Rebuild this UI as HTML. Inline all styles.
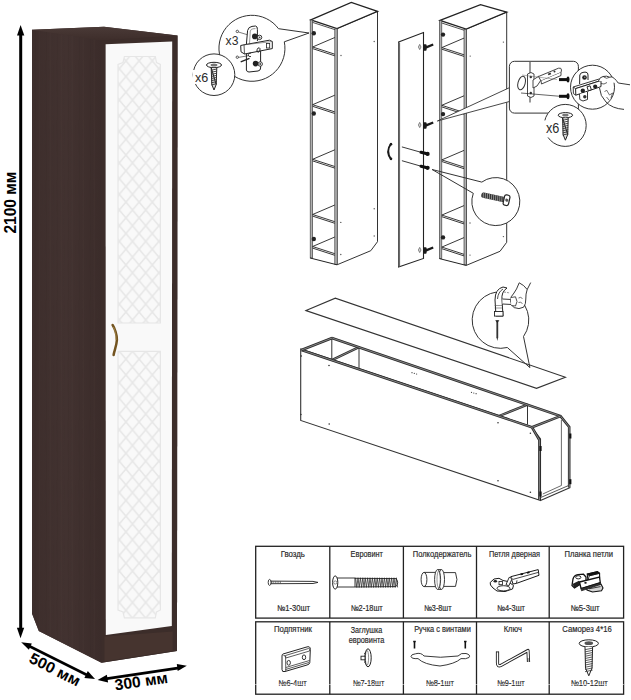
<!DOCTYPE html>
<html><head><meta charset="utf-8">
<style>
html,body{margin:0;padding:0;background:#fff;width:631px;height:700px;overflow:hidden;}
svg{display:block;position:absolute;left:0;top:0;}
text{font-family:"Liberation Sans",sans-serif;}
</style></head>
<body>
<svg width="631" height="700" viewBox="0 0 631 700">
<defs>
  <linearGradient id="sideG" x1="0" y1="0" x2="1" y2="0">
    <stop offset="0" stop-color="#3d2e2c"/>
    <stop offset="0.5" stop-color="#423230"/>
    <stop offset="1" stop-color="#3b2c2a"/>
  </linearGradient>
  <linearGradient id="topG" x1="0" y1="0" x2="0" y2="1">
    <stop offset="0" stop-color="#4a3a37"/>
    <stop offset="1" stop-color="#3d2d2a"/>
  </linearGradient>
  <pattern id="grain" x="0" y="0" width="11" height="60" patternUnits="userSpaceOnUse">
    <path d="M2 0 L2.4 60" stroke="#2f2220" stroke-width="0.7" opacity="0.25"/>
    <path d="M6.5 0 L6.2 60" stroke="#4d3d3a" stroke-width="0.7" opacity="0.25"/>
    <path d="M9 0 L9.2 60" stroke="#342624" stroke-width="0.5" opacity="0.2"/>
  </pattern>
  <pattern id="diam" x="119.3" y="53" width="13.2" height="15.7" patternUnits="userSpaceOnUse">
    <path d="M0 0 L13.2 15.7 M13.2 0 L0 15.7" stroke="#e7e7e7" stroke-width="1.6" fill="none"/>
  </pattern>
</defs>

<polygon points="32,29.7 104,26.8 177.5,35.5 177,651 101.5,662.7 38.8,631 32,613.5" fill="#3e2f2d" stroke="none" stroke-width="0"/>
<polygon points="32,29.7 101.5,40.5 101.5,662.7 38.8,631 32,613.5" fill="url(#sideG)" stroke="none" stroke-width="0"/>
<polygon points="32,29.7 101.5,40.5 101.5,662.7 38.8,631 32,613.5" fill="url(#grain)" stroke="none" stroke-width="0"/>
<polygon points="32,29.7 104,26.8 177.5,35.5 101.5,40.5" fill="url(#topG)" stroke="none" stroke-width="0"/>
<polygon points="101.5,40.5 177.5,35.5 177,651 101.5,662.7" fill="#3c2d2a" stroke="none" stroke-width="0"/>
<polygon points="104.5,636.4 172.7,631.4 172.7,650.8 104.5,661.3" fill="#46342f" stroke="none" stroke-width="0"/>
<polygon points="105.6,44.3 172.2,41.6 171.8,626 105.8,635" fill="#f9f9f9" stroke="none" stroke-width="0"/>
<path d="M124.4,56.5 L155.3,56.5 L156.5,62.5 L160.4,64.4 L160.4,323 L118,323 L118,64.4 L123,62.5 Z" fill="url(#diam)" stroke="#e6e6e6" stroke-width="1.2"/>
<path d="M118,351.4 L160.4,351.4 L160.4,610 L156.5,612 L155.3,617.8 L124.4,617.8 L123,612 L118,610 Z" fill="url(#diam)" stroke="#e6e6e6" stroke-width="1.2"/>
<path d="M112.6,325 C114.6,328 117.2,335 116.9,340 C116.6,346 114.2,351 113.6,355" fill="none" stroke="#735420" stroke-width="2.5" stroke-linecap="round"/>
<path d="M113.4,327 C115,330 116.3,335 116.1,340" fill="none" stroke="#a88a4a" stroke-width="0.8"/>
<line x1="20.7" y1="33" x2="20.7" y2="631" stroke="#000" stroke-width="3"/>
<polygon points="20.6,25 17,35.6 24.3,35.6" fill="#000" stroke="none" stroke-width="0"/>
<polygon points="20.5,638.2 16.9,627.8 24.2,627.8" fill="#000" stroke="none" stroke-width="0"/>
<text transform="translate(15.6,233.6) rotate(-90)" font-size="16.3" font-weight="bold" fill="#000" textLength="62" lengthAdjust="spacingAndGlyphs">2100 мм</text>
<line x1="26" y1="644.5" x2="90" y2="676.5" stroke="#000" stroke-width="2.6"/>
<polygon points="21.2,642.2 31.8,643.6 28.9,649.8" fill="#000" stroke="none" stroke-width="0"/>
<polygon points="95,679 84.4,677.9 87.8,671.1" fill="#000" stroke="none" stroke-width="0"/>
<text transform="translate(28,661.8) rotate(27)" font-size="15.4" font-weight="bold" fill="#000" textLength="55" lengthAdjust="spacingAndGlyphs">500 мм</text>
<line x1="102" y1="679.3" x2="181" y2="667.6" stroke="#000" stroke-width="2.7"/>
<polygon points="97.6,680 106.9,674.7 108.1,682.4" fill="#000" stroke="none" stroke-width="0"/>
<polygon points="186.8,665.8 176.8,664 177.7,671" fill="#000" stroke="none" stroke-width="0"/>
<text transform="translate(115.6,690.6) rotate(-8.5)" font-size="15.6" font-weight="bold" fill="#000" textLength="53.5" lengthAdjust="spacingAndGlyphs">300 мм</text>
<polygon points="337,28.5 377.5,11.4 377.5,241.7 370.8,250.7 337,264.8" fill="#fff" stroke="#333" stroke-width="1"/>
<polygon points="310.8,19.8 351.3,2.4 377.5,11.4 337,28.5" fill="#fff" stroke="#222" stroke-width="1.3"/>
<rect x="310.2" y="20" width="2.4" height="238" fill="#b0b0b0" stroke="#3a3a3a" stroke-width="0.65"/>
<rect x="334.8" y="28.8" width="2.4" height="235.5" fill="#b0b0b0" stroke="#3a3a3a" stroke-width="0.65"/>
<line x1="312.6" y1="22.4" x2="334.8" y2="29.6" stroke="#222" stroke-width="0.8"/>
<line x1="312.6" y1="47" x2="334.8" y2="37.5" stroke="#222" stroke-width="0.9"/>
<line x1="312.6" y1="47" x2="334.8" y2="54.2" stroke="#222" stroke-width="0.9"/>
<line x1="312.6" y1="48.6" x2="334.8" y2="55.8" stroke="#222" stroke-width="0.9"/>
<line x1="312.6" y1="104.7" x2="334.8" y2="95.2" stroke="#222" stroke-width="0.9"/>
<line x1="312.6" y1="104.7" x2="334.8" y2="111.9" stroke="#222" stroke-width="0.9"/>
<line x1="312.6" y1="106.3" x2="334.8" y2="113.5" stroke="#222" stroke-width="0.9"/>
<line x1="312.6" y1="159.3" x2="334.8" y2="149.8" stroke="#222" stroke-width="0.9"/>
<line x1="312.6" y1="159.3" x2="334.8" y2="166.5" stroke="#222" stroke-width="0.9"/>
<line x1="312.6" y1="160.9" x2="334.8" y2="168.1" stroke="#222" stroke-width="0.9"/>
<line x1="312.6" y1="214.5" x2="334.8" y2="205" stroke="#222" stroke-width="0.9"/>
<line x1="312.6" y1="214.5" x2="334.8" y2="221.7" stroke="#222" stroke-width="0.9"/>
<line x1="312.6" y1="216.1" x2="334.8" y2="223.3" stroke="#222" stroke-width="0.9"/>
<line x1="312.6" y1="246.5" x2="334.8" y2="237" stroke="#222" stroke-width="0.9"/>
<line x1="312.6" y1="246.5" x2="334.8" y2="253.7" stroke="#222" stroke-width="0.9"/>
<line x1="312.6" y1="248.1" x2="334.8" y2="255.3" stroke="#222" stroke-width="0.9"/>
<line x1="310.2" y1="258" x2="337" y2="264.8" stroke="#222" stroke-width="1"/>
<circle cx="313.8" cy="33.3" r="2.2" fill="#222"/>
<circle cx="313.8" cy="113.5" r="2.2" fill="#222"/>
<circle cx="313.8" cy="239" r="2.2" fill="#222"/>
<circle cx="374.2" cy="41.5" r="0.7" fill="#555"/>
<circle cx="341" cy="55.5" r="0.7" fill="#555"/>
<circle cx="340.8" cy="222.4" r="0.7" fill="#555"/>
<circle cx="374.2" cy="208.8" r="0.7" fill="#555"/>
<circle cx="340.8" cy="254.5" r="0.7" fill="#555"/>
<circle cx="374.2" cy="236" r="0.7" fill="#555"/>
<polygon points="466.2,29.1 506.7,12 506.7,242.3 500,251.3 466.2,265.4" fill="#fff" stroke="#333" stroke-width="1"/>
<polygon points="440,20.4 480.5,4.6 506.7,12 466.2,29.1" fill="#fff" stroke="#222" stroke-width="1.3"/>
<rect x="439.4" y="20.6" width="2.4" height="238" fill="#b0b0b0" stroke="#3a3a3a" stroke-width="0.65"/>
<rect x="464" y="29.4" width="2.4" height="235.5" fill="#b0b0b0" stroke="#3a3a3a" stroke-width="0.65"/>
<line x1="441.8" y1="23" x2="464" y2="30.2" stroke="#222" stroke-width="0.8"/>
<line x1="441.8" y1="47.6" x2="464" y2="38.1" stroke="#222" stroke-width="0.9"/>
<line x1="441.8" y1="47.6" x2="464" y2="54.8" stroke="#222" stroke-width="0.9"/>
<line x1="441.8" y1="49.2" x2="464" y2="56.4" stroke="#222" stroke-width="0.9"/>
<line x1="441.8" y1="105.3" x2="464" y2="95.8" stroke="#222" stroke-width="0.9"/>
<line x1="441.8" y1="105.3" x2="464" y2="112.5" stroke="#222" stroke-width="0.9"/>
<line x1="441.8" y1="106.9" x2="464" y2="114.1" stroke="#222" stroke-width="0.9"/>
<line x1="441.8" y1="159.9" x2="464" y2="150.4" stroke="#222" stroke-width="0.9"/>
<line x1="441.8" y1="159.9" x2="464" y2="167.1" stroke="#222" stroke-width="0.9"/>
<line x1="441.8" y1="161.5" x2="464" y2="168.7" stroke="#222" stroke-width="0.9"/>
<line x1="441.8" y1="215.1" x2="464" y2="205.6" stroke="#222" stroke-width="0.9"/>
<line x1="441.8" y1="215.1" x2="464" y2="222.3" stroke="#222" stroke-width="0.9"/>
<line x1="441.8" y1="216.7" x2="464" y2="223.9" stroke="#222" stroke-width="0.9"/>
<line x1="441.8" y1="247.1" x2="464" y2="237.6" stroke="#222" stroke-width="0.9"/>
<line x1="441.8" y1="247.1" x2="464" y2="254.3" stroke="#222" stroke-width="0.9"/>
<line x1="441.8" y1="248.7" x2="464" y2="255.9" stroke="#222" stroke-width="0.9"/>
<line x1="439.4" y1="258.6" x2="466.2" y2="265.4" stroke="#222" stroke-width="1"/>
<circle cx="443" cy="34.6" r="2.2" fill="#222"/>
<circle cx="443" cy="114.1" r="2.2" fill="#222"/>
<circle cx="443" cy="237.4" r="2.2" fill="#222"/>
<circle cx="503.4" cy="42.1" r="0.7" fill="#555"/>
<circle cx="470.2" cy="56.1" r="0.7" fill="#555"/>
<circle cx="470" cy="223" r="0.7" fill="#555"/>
<circle cx="503.4" cy="209.4" r="0.7" fill="#555"/>
<circle cx="470" cy="255.1" r="0.7" fill="#555"/>
<circle cx="503.4" cy="236.6" r="0.7" fill="#555"/>
<polygon points="398.6,42 423.5,32.6 423.5,258.4 398.6,267" fill="#fff" stroke="#222" stroke-width="1.1"/>
<line x1="399.2" y1="42.5" x2="399.2" y2="266.5" stroke="#6a6a6a" stroke-width="1.8"/>
<path d="M419.7,44.4 l1.3,2.6 l-1.3,2.6 l-1.3,-2.6 Z" fill="#ddd" stroke="#555" stroke-width="0.7"/>
<path d="M425,47.8 L433.2,44.5" fill="none" stroke="#1a1a1a" stroke-width="2.4"/>
<rect x="423.2" y="44.2" width="3.4" height="6.6" rx="1" fill="#1a1a1a"/>
<path d="M419.7,122.4 l1.3,2.6 l-1.3,2.6 l-1.3,-2.6 Z" fill="#ddd" stroke="#555" stroke-width="0.7"/>
<path d="M425,125.8 L433.2,122.5" fill="none" stroke="#1a1a1a" stroke-width="2.4"/>
<rect x="423.2" y="122.2" width="3.4" height="6.6" rx="1" fill="#1a1a1a"/>
<path d="M419.7,247.4 l1.3,2.6 l-1.3,2.6 l-1.3,-2.6 Z" fill="#ddd" stroke="#555" stroke-width="0.7"/>
<path d="M425,250.8 L433.2,247.5" fill="none" stroke="#1a1a1a" stroke-width="2.4"/>
<rect x="423.2" y="247.2" width="3.4" height="6.6" rx="1" fill="#1a1a1a"/>
<line x1="401.9" y1="146.9" x2="421" y2="152.3" stroke="#222" stroke-width="0.9"/>
<path d="M421,152.3 L427,153.8" fill="none" stroke="#111" stroke-width="3" stroke-linecap="round"/>
<circle cx="427.6" cy="153.9" r="2.1" fill="#111"/>
<line x1="401.9" y1="160.7" x2="421" y2="166.2" stroke="#222" stroke-width="0.9"/>
<path d="M421,166.2 L427,167.7" fill="none" stroke="#111" stroke-width="3" stroke-linecap="round"/>
<circle cx="427.6" cy="167.8" r="2.1" fill="#111"/>
<path d="M391,143.8 Q385.3,151.5 391,159.2" fill="none" stroke="#1a1a1a" stroke-width="1.9" stroke-linecap="round"/>
<circle cx="391" cy="144.2" r="1.3" fill="#1a1a1a"/><circle cx="391" cy="158.8" r="1.3" fill="#1a1a1a"/>
<circle cx="252" cy="48.4" r="33" fill="#fff"/>
<path d="M284.3,41.8 A33,33 0 1,1 278.5,28.7 L309,33 Z" fill="none" stroke="#333" stroke-width="1"/>
<path d="M246.4,44 L247.6,30.5 Q248.5,26.8 252,26.4 L255.5,26 Q257.6,26.3 257.4,29.5 L257.4,41" fill="#fff" stroke="#222" stroke-width="1"/>
<path d="M249.5,43.5 L250.3,31 Q251,29 253,28.8 L255.5,28.6" fill="none" stroke="#555" stroke-width="0.6"/>
<path d="M246.4,53.5 L246.4,70 Q246.8,72 249,72 L258,71 Q260.6,70.6 260.6,68 L260.6,50" fill="#fff" stroke="#222" stroke-width="1"/>
<path d="M240.7,45.5 L244,44.8 L269.5,40.2 L272.3,41.5 L272.3,48.6 L244.5,54 L241,51.8 Z" fill="#fff" stroke="#222" stroke-width="1"/>
<line x1="244" y1="44.8" x2="244.5" y2="54" stroke="#333" stroke-width="0.8"/>
<line x1="244" y1="44.8" x2="272.3" y2="41.5" stroke="#555" stroke-width="0.6"/>
<circle cx="254.8" cy="36.4" r="2.8" fill="#222"/><circle cx="259.6" cy="37.4" r="2.2" fill="#fff" stroke="#222" stroke-width="0.9"/><circle cx="259.6" cy="37.4" r="0.9" fill="#444"/>
<circle cx="255.6" cy="63.6" r="2.8" fill="#222"/><circle cx="260.2" cy="64" r="2.2" fill="#fff" stroke="#222" stroke-width="0.9"/><circle cx="260.2" cy="64" r="0.9" fill="#444"/>
<ellipse cx="258.5" cy="50" rx="1.4" ry="2.3" fill="none" stroke="#222" stroke-width="0.9" transform="rotate(20 258.5 50)"/>
<rect x="266.5" y="43.5" width="3.2" height="4.5" fill="none" stroke="#222" stroke-width="0.8"/>
<path d="M251,53 Q248,53 248,55 Q248.5,57 251,56.6" fill="none" stroke="#222" stroke-width="0.9"/>
<circle cx="237.3" cy="31.4" r="1.2" fill="none" stroke="#333" stroke-width="0.8"/>
<line x1="238.4" y1="32" x2="247" y2="34.6" stroke="#222" stroke-width="0.6"/>
<circle cx="237.3" cy="57.2" r="1.2" fill="none" stroke="#333" stroke-width="0.8"/>
<line x1="238.5" y1="57.4" x2="249" y2="55.6" stroke="#222" stroke-width="0.6"/>
<line x1="240.7" y1="61.8" x2="249.5" y2="58.3" stroke="#222" stroke-width="1.3"/>
<text x="232" y="45.2" font-size="13" fill="#2b2b2b" text-anchor="middle" font-weight="normal" textLength="12.8" lengthAdjust="spacingAndGlyphs">x3</text>
<circle cx="214" cy="74.7" r="20.8" fill="#fff" stroke="#333" stroke-width="1"/>
<rect x="193" y="70" width="9" height="14" fill="#fff"/>
<ellipse cx="214" cy="65" rx="7.5" ry="2.7" fill="#fff" stroke="#222" stroke-width="1"/>
<ellipse cx="214" cy="65" rx="3.4" ry="1.5" fill="#777" stroke="none"/>
<path d="M211.2,67.7 L211.8,84.5 L214,90 L216.2,84.5 Z M216.2,84.5 L216.8,67.7" fill="#ddd" stroke="#222" stroke-width="1"/>
<line x1="211.2" y1="70.2" x2="216.8" y2="69" stroke="#333" stroke-width="0.9"/>
<line x1="211.2" y1="72.3" x2="216.8" y2="71.1" stroke="#333" stroke-width="0.9"/>
<line x1="211.2" y1="74.4" x2="216.8" y2="73.2" stroke="#333" stroke-width="0.9"/>
<line x1="211.2" y1="76.5" x2="216.8" y2="75.3" stroke="#333" stroke-width="0.9"/>
<line x1="211.2" y1="78.6" x2="216.8" y2="77.4" stroke="#333" stroke-width="0.9"/>
<line x1="211.2" y1="80.7" x2="216.8" y2="79.5" stroke="#333" stroke-width="0.9"/>
<line x1="211.2" y1="82.8" x2="216.8" y2="81.6" stroke="#333" stroke-width="0.9"/>
<line x1="211.2" y1="84.9" x2="216.8" y2="83.7" stroke="#333" stroke-width="0.9"/>
<text x="201.6" y="82" font-size="13" fill="#2b2b2b" text-anchor="middle" font-weight="normal" textLength="13.3" lengthAdjust="spacingAndGlyphs">x6</text>
<polygon points="437.4,121 509.4,87.7 509.4,101.5" fill="#fff" stroke="none" stroke-width="0"/>
<line x1="437.4" y1="121" x2="509.4" y2="87.7" stroke="#333" stroke-width="0.9"/>
<line x1="437.4" y1="121" x2="509.4" y2="101.5" stroke="#333" stroke-width="0.9"/>
<rect x="509.4" y="61.3" width="69" height="51.8" rx="5" fill="#fff" stroke="#333" stroke-width="1"/>
<line x1="530" y1="62" x2="530" y2="102.4" stroke="#555" stroke-width="1.2"/>
<ellipse cx="521.6" cy="83" rx="3.6" ry="7" transform="rotate(15 521.6 83)" fill="none" stroke="#333" stroke-width="1"/>
<path d="M527.5,74 L531,72.5 L534,74 L534,96 L531,97.5 L527.5,96 Z" fill="#fff" stroke="#333" stroke-width="0.9"/>
<circle cx="530.8" cy="77" r="1.2" fill="#333"/><circle cx="530.8" cy="93" r="1.2" fill="#333"/>
<path d="M533,80 L539,76 L541,80 L537,86 L533,88 Z" fill="#fff" stroke="#333" stroke-width="0.9"/>
<path d="M538.5,76.5 L558.5,68.2 Q561.5,67.5 561.5,70 L561,72.5 L541,81 Z" fill="#fff" stroke="#333" stroke-width="0.9"/>
<path d="M541,81 L541.5,84 L561,75.5 L561,72.5" fill="#fff" stroke="#333" stroke-width="0.9"/>
<rect x="548" y="73" width="3" height="1.8" fill="#333" transform="rotate(-22 549.5 73.9)"/>
<circle cx="554.5" cy="71.4" r="1" fill="#333"/>
<line x1="521" y1="93" x2="560" y2="96.3" stroke="#222" stroke-width="0.7"/>
<line x1="522" y1="75" x2="557" y2="79.5" stroke="#666" stroke-width="0.5"/>
<path d="M559,79.6 L567,79.6" fill="none" stroke="#111" stroke-width="3"/>
<ellipse cx="568" cy="79.6" rx="1.5" ry="3" fill="#111"/>
<path d="M559,96.3 L567,96.3" fill="none" stroke="#111" stroke-width="3"/>
<ellipse cx="568" cy="96.3" rx="1.5" ry="3" fill="#111"/>
<circle cx="592.5" cy="87.2" r="22" fill="#fff" stroke="#333" stroke-width="1"/>
<path d="M579.6,84 L579.8,75 Q580.5,72.3 584,72.2 L586,72.2 Q588,72.5 588,75 L588,80" fill="#fff" stroke="#222" stroke-width="1"/>
<circle cx="584.5" cy="77.5" r="2.3" fill="#222"/><circle cx="584.8" cy="77.2" r="0.8" fill="#999"/>
<path d="M573.2,87 L598.5,79.2 L601,80.5 L575.6,88.6 Z" fill="#fff" stroke="#222" stroke-width="0.9"/>
<path d="M575.6,88.6 L601,80.5 L601,86.6 L575.8,95.2 Z" fill="#fff" stroke="#222" stroke-width="1"/>
<path d="M573.2,87 L573.4,93.6 L575.8,95.2" fill="none" stroke="#222" stroke-width="0.9"/>
<circle cx="582.8" cy="90.8" r="2.2" fill="#222"/><circle cx="595.2" cy="86.5" r="2.1" fill="#222"/>
<rect x="587.6" y="86.2" width="3.2" height="4.2" fill="#fff" stroke="#222" stroke-width="0.9" transform="rotate(-18 589.2 88.3)"/>
<path d="M579.5,94 L579.8,99.5 L583,101 L587.5,99.5 L587.5,92" fill="#fff" stroke="#222" stroke-width="0.9"/>
<circle cx="584.8" cy="96.8" r="1.7" fill="#333"/>
<path d="M598.5,80.8 Q599.5,77.2 603,76.5 Q607,75.5 609.5,77.2 Q612,75.8 614.5,78.6 Q616.5,80.5 618.2,83 L630,84.8" fill="#fff" stroke="#222" stroke-width="0.9"/>
<path d="M603.5,76.8 Q606.5,79.5 609.5,77.3 M601,83.5 Q604,85 607,82.5" fill="none" stroke="#222" stroke-width="0.7"/>
<path d="M599.5,88 Q600,96 606,102 Q612,108.5 624,109.4" fill="none" stroke="#222" stroke-width="0.9"/>
<path d="M604.5,92 L606.5,90 L609.5,95 L612.5,93 L611,98 M606.5,97 L609,100" fill="none" stroke="#333" stroke-width="0.7"/>
<circle cx="565.2" cy="125.4" r="21" fill="#fff" stroke="#333" stroke-width="1"/>
<rect x="543" y="120.4" width="8" height="17" fill="#fff"/>
<ellipse cx="565.4" cy="115.2" rx="7.2" ry="2.6" fill="#fff" stroke="#222" stroke-width="1"/>
<ellipse cx="565.4" cy="115.2" rx="3.2" ry="1.4" fill="#777" stroke="none"/>
<path d="M562.6,117.8 L563.1,134.6 L565.4,140.2 L567.7,134.6 Z M567.7,134.6 L568.2,117.8" fill="#ddd" stroke="#222" stroke-width="1"/>
<line x1="562.6" y1="120.3" x2="568.2" y2="119.1" stroke="#333" stroke-width="0.9"/>
<line x1="562.6" y1="122.4" x2="568.2" y2="121.2" stroke="#333" stroke-width="0.9"/>
<line x1="562.6" y1="124.5" x2="568.2" y2="123.3" stroke="#333" stroke-width="0.9"/>
<line x1="562.6" y1="126.6" x2="568.2" y2="125.4" stroke="#333" stroke-width="0.9"/>
<line x1="562.6" y1="128.7" x2="568.2" y2="127.5" stroke="#333" stroke-width="0.9"/>
<line x1="562.6" y1="130.8" x2="568.2" y2="129.6" stroke="#333" stroke-width="0.9"/>
<line x1="562.6" y1="132.9" x2="568.2" y2="131.7" stroke="#333" stroke-width="0.9"/>
<line x1="562.6" y1="135" x2="568.2" y2="133.8" stroke="#333" stroke-width="0.9"/>
<text x="552.6" y="133.3" font-size="14" fill="#2b2b2b" text-anchor="middle" font-weight="normal" textLength="13.4" lengthAdjust="spacingAndGlyphs">x6</text>
<circle cx="495.9" cy="201.5" r="24" fill="#fff"/>
<path d="M481.8,182.1 A24,24 0 1,1 473.3,193.3 L432.1,169.5 Z" fill="none" stroke="#333" stroke-width="1"/>
<g transform="rotate(12 495 198)">
<rect x="481" y="195" width="24" height="5.4" rx="2" fill="#333"/>
<line x1="482.5" y1="195" x2="483.5" y2="200.4" stroke="#999" stroke-width="0.8"/>
<line x1="484.6" y1="195" x2="485.6" y2="200.4" stroke="#999" stroke-width="0.8"/>
<line x1="486.7" y1="195" x2="487.7" y2="200.4" stroke="#999" stroke-width="0.8"/>
<line x1="488.8" y1="195" x2="489.8" y2="200.4" stroke="#999" stroke-width="0.8"/>
<line x1="490.9" y1="195" x2="491.9" y2="200.4" stroke="#999" stroke-width="0.8"/>
<line x1="493" y1="195" x2="494" y2="200.4" stroke="#999" stroke-width="0.8"/>
<line x1="495.1" y1="195" x2="496.1" y2="200.4" stroke="#999" stroke-width="0.8"/>
<line x1="497.2" y1="195" x2="498.2" y2="200.4" stroke="#999" stroke-width="0.8"/>
<line x1="499.3" y1="195" x2="500.3" y2="200.4" stroke="#999" stroke-width="0.8"/>
<line x1="501.4" y1="195" x2="502.4" y2="200.4" stroke="#999" stroke-width="0.8"/>
<line x1="503.5" y1="195" x2="504.5" y2="200.4" stroke="#999" stroke-width="0.8"/>
<rect x="504" y="192.5" width="5.5" height="10.5" rx="2" fill="#fff" stroke="#222" stroke-width="1.2"/>
<circle cx="507" cy="197.7" r="1.6" fill="#555"/>
</g>
<polygon points="306,310.6 335.3,298.2 565.4,377.2 536.5,388.3" fill="#fff" stroke="#333" stroke-width="1.1"/>
<circle cx="500.5" cy="320" r="28.3" fill="#fff"/>
<path d="M507.3,347.5 A28.3,28.3 0 1,1 523.5,336.5 L529.9,367.6 Z" fill="none" stroke="#333" stroke-width="1"/>
<rect x="496" y="283" width="29" height="17" fill="#fff"/>
<path d="M496,316 L495,300 Q495,289 503,287 L507,288 Q501,292 502,300 L503,316 Z" fill="#fff" stroke="#222" stroke-width="1"/>
<path d="M497.5,299 Q498,292 503,289" fill="none" stroke="#222" stroke-width="0.8"/>
<rect x="494.5" y="311.5" width="8.5" height="4.6" fill="#fff" stroke="#222" stroke-width="0.9"/>
<path d="M494.6,305.5 L502.8,305.5 M494.6,308 L502.8,308" fill="none" stroke="#555" stroke-width="0.6"/>
<path d="M502.5,299 L511.5,299.5 L511.5,304.5 L502.5,304" fill="#fff" stroke="#222" stroke-width="0.9"/>
<path d="M519.2,282.8 Q516.5,290 514,293 Q510.2,296.5 510.6,301 Q511,306 514.2,307.6 Q519,309.8 523.6,307.2 Q526,304.2 525.8,299 Q525.6,294 527.2,289.5" fill="#fff" stroke="#222" stroke-width="0.9"/>
<path d="M519.2,282.8 Q524,285 527.2,289.5 Q529,286 530.7,282.6" fill="none" stroke="#222" stroke-width="0.9"/>
<path d="M510.8,297.5 L515.5,296.8 L517,301.5 L515.5,306 L511.2,305.5" fill="#fff" stroke="#222" stroke-width="0.8"/>
<path d="M518.5,298 Q520.5,296.5 522.5,298.5 M518.5,302.5 Q520.5,301.5 522.5,303.5" fill="none" stroke="#333" stroke-width="0.7"/>
<path d="M504,292 L510,293" fill="none" stroke="#666" stroke-width="0.7" stroke-dasharray="2 1"/>
<rect x="496.4" y="320.5" width="1.8" height="17" fill="#333"/>
<path d="M495.2,320.2 L499.4,320.2 L497.3,323 Z" fill="#222" stroke="none" stroke-width="0"/>
<path d="M496.4,337 L497.3,341 L498.2,337 Z" fill="#333" stroke="none" stroke-width="0"/>
<polygon points="300.7,349 531.3,426.6 540.5,439 540.5,500.5 300.7,420.4" fill="#fff" stroke="#333" stroke-width="1.1"/>
<line x1="331.8" y1="337" x2="331.8" y2="359.4" stroke="#333" stroke-width="1"/>
<line x1="359" y1="346.3" x2="359" y2="368.5" stroke="#333" stroke-width="1"/>
<line x1="527.5" y1="403.8" x2="527.5" y2="424.6" stroke="#333" stroke-width="1"/>
<polyline points="331.8,360.2 359,347.1" fill="none" stroke="#2c2c2c" stroke-width="2.4" stroke-linejoin="miter"/>
<polyline points="331.8,360.2 359,347.1" fill="none" stroke="#9a9a9a" stroke-width="0.8" stroke-linejoin="miter"/>
<polyline points="499,416 527.5,404.6" fill="none" stroke="#2c2c2c" stroke-width="2.4" stroke-linejoin="miter"/>
<polyline points="499,416 527.5,404.6" fill="none" stroke="#9a9a9a" stroke-width="0.8" stroke-linejoin="miter"/>
<polyline points="301.5,350 532,427.3 539.4,440 539.4,500" fill="none" stroke="#2c2c2c" stroke-width="2.6" stroke-linejoin="miter"/>
<polyline points="301.5,350 532,427.3 539.4,440 539.4,500" fill="none" stroke="#9a9a9a" stroke-width="0.8" stroke-linejoin="miter"/>
<polyline points="331.8,338 560.5,416.1 569.2,427 569.2,487.5" fill="none" stroke="#2c2c2c" stroke-width="2.6" stroke-linejoin="miter"/>
<polyline points="331.8,338 560.5,416.1 569.2,427 569.2,487.5" fill="none" stroke="#9a9a9a" stroke-width="0.8" stroke-linejoin="miter"/>
<polyline points="301.5,350 332.2,338" fill="none" stroke="#2c2c2c" stroke-width="2.6" stroke-linejoin="miter"/>
<polyline points="301.5,350 332.2,338" fill="none" stroke="#9a9a9a" stroke-width="0.8" stroke-linejoin="miter"/>
<polyline points="532,427.3 560.5,416.1" fill="none" stroke="#2c2c2c" stroke-width="2.6" stroke-linejoin="miter"/>
<polyline points="532,427.3 560.5,416.1" fill="none" stroke="#9a9a9a" stroke-width="0.8" stroke-linejoin="miter"/>
<line x1="540.5" y1="500.5" x2="570.3" y2="487.5" stroke="#333" stroke-width="1.1"/>
<line x1="561.4" y1="420" x2="561.4" y2="485.5" stroke="#444" stroke-width="0.8"/>
<line x1="542.8" y1="494" x2="561.4" y2="485.5" stroke="#444" stroke-width="0.8"/>
<line x1="540.5" y1="497.6" x2="568.4" y2="485.6" stroke="#444" stroke-width="0.9"/>
<rect x="539.4" y="446" width="2.2" height="5" fill="#111"/>
<rect x="539.4" y="491.5" width="2.2" height="5" fill="#111"/>
<rect x="569.2" y="433.5" width="2.2" height="5" fill="#111"/>
<rect x="569.2" y="479.2" width="2.2" height="5" fill="#111"/>
<circle cx="301.3" cy="356" r="0.8" fill="#333"/>
<circle cx="329" cy="365.5" r="0.8" fill="#333"/>
<circle cx="300.9" cy="414.5" r="0.8" fill="#333"/>
<circle cx="329.2" cy="424" r="0.8" fill="#333"/>
<circle cx="498" cy="422.8" r="0.8" fill="#333"/>
<circle cx="530.4" cy="433.3" r="0.8" fill="#333"/>
<circle cx="498" cy="480.8" r="0.8" fill="#333"/>
<circle cx="530.4" cy="492.2" r="0.8" fill="#333"/>
<circle cx="412" cy="372.7" r="0.6" fill="#333"/>
<circle cx="414.3" cy="373.3" r="0.6" fill="#333"/>
<circle cx="416.6" cy="374" r="0.6" fill="#333"/>
<circle cx="471.5" cy="392.3" r="0.6" fill="#333"/>
<circle cx="473.8" cy="393" r="0.6" fill="#333"/>
<circle cx="476.1" cy="393.7" r="0.6" fill="#333"/>
<rect x="255.7" y="546.3" width="367.9" height="71.8" fill="#fff" stroke="#222" stroke-width="1.3"/>
<line x1="329.8" y1="546.3" x2="329.8" y2="618.1" stroke="#222" stroke-width="1.3"/>
<line x1="403.4" y1="546.3" x2="403.4" y2="618.1" stroke="#222" stroke-width="1.3"/>
<line x1="476.5" y1="546.3" x2="476.5" y2="618.1" stroke="#222" stroke-width="1.3"/>
<line x1="549.2" y1="546.3" x2="549.2" y2="618.1" stroke="#222" stroke-width="1.3"/>
<rect x="255.7" y="621.8" width="367.9" height="72.4" fill="#fff" stroke="#222" stroke-width="1.3"/>
<line x1="329.8" y1="621.8" x2="329.8" y2="694.2" stroke="#222" stroke-width="1.3"/>
<line x1="403.4" y1="621.8" x2="403.4" y2="694.2" stroke="#222" stroke-width="1.3"/>
<line x1="476.5" y1="621.8" x2="476.5" y2="694.2" stroke="#222" stroke-width="1.3"/>
<line x1="549.2" y1="621.8" x2="549.2" y2="694.2" stroke="#222" stroke-width="1.3"/>
<text x="292.8" y="556.8" font-size="8.2" fill="#2a2a2a" text-anchor="middle" font-weight="normal" textLength="24.2" lengthAdjust="spacingAndGlyphs" stroke="#2a2a2a" stroke-width="0.18">Гвоздь</text>
<text x="366.8" y="556.8" font-size="8.2" fill="#2a2a2a" text-anchor="middle" font-weight="normal" textLength="32.4" lengthAdjust="spacingAndGlyphs" stroke="#2a2a2a" stroke-width="0.18">Евровинт</text>
<text x="442.1" y="556.8" font-size="8.2" fill="#2a2a2a" text-anchor="middle" font-weight="normal" textLength="58.6" lengthAdjust="spacingAndGlyphs" stroke="#2a2a2a" stroke-width="0.18">Полкодержатель</text>
<text x="514.5" y="556.8" font-size="8.2" fill="#2a2a2a" text-anchor="middle" font-weight="normal" textLength="51.1" lengthAdjust="spacingAndGlyphs" stroke="#2a2a2a" stroke-width="0.18">Петля дверная</text>
<text x="588.8" y="556.8" font-size="8.2" fill="#2a2a2a" text-anchor="middle" font-weight="normal" textLength="48.5" lengthAdjust="spacingAndGlyphs" stroke="#2a2a2a" stroke-width="0.18">Планка петли</text>
<text x="293.5" y="610.8" font-size="8.2" fill="#2a2a2a" text-anchor="middle" font-weight="normal" textLength="33" lengthAdjust="spacingAndGlyphs" stroke="#2a2a2a" stroke-width="0.18">№1-30шт</text>
<text x="366.7" y="610.8" font-size="8.2" fill="#2a2a2a" text-anchor="middle" font-weight="normal" textLength="32.1" lengthAdjust="spacingAndGlyphs" stroke="#2a2a2a" stroke-width="0.18">№2-18шт</text>
<text x="437.8" y="610.8" font-size="8.2" fill="#2a2a2a" text-anchor="middle" font-weight="normal" textLength="27.5" lengthAdjust="spacingAndGlyphs" stroke="#2a2a2a" stroke-width="0.18">№3-8шт</text>
<text x="511" y="610.8" font-size="8.2" fill="#2a2a2a" text-anchor="middle" font-weight="normal" textLength="28" lengthAdjust="spacingAndGlyphs" stroke="#2a2a2a" stroke-width="0.18">№4-3шт</text>
<text x="585.1" y="610.8" font-size="8.2" fill="#2a2a2a" text-anchor="middle" font-weight="normal" textLength="29" lengthAdjust="spacingAndGlyphs" stroke="#2a2a2a" stroke-width="0.18">№5-3шт</text>
<text x="293" y="632.3" font-size="8.2" fill="#2a2a2a" text-anchor="middle" font-weight="normal" textLength="38" lengthAdjust="spacingAndGlyphs" stroke="#2a2a2a" stroke-width="0.18">Подпятник</text>
<text x="366.5" y="632.5" font-size="8.2" fill="#2a2a2a" text-anchor="middle" font-weight="normal" textLength="31.7" lengthAdjust="spacingAndGlyphs" stroke="#2a2a2a" stroke-width="0.18">Заглушка</text>
<text x="366.5" y="642.6" font-size="8.2" fill="#2a2a2a" text-anchor="middle" font-weight="normal" textLength="35.7" lengthAdjust="spacingAndGlyphs" stroke="#2a2a2a" stroke-width="0.18">евровинта</text>
<text x="442.5" y="632.3" font-size="8.2" fill="#2a2a2a" text-anchor="middle" font-weight="normal" textLength="56.6" lengthAdjust="spacingAndGlyphs" stroke="#2a2a2a" stroke-width="0.18">Ручка с винтами</text>
<text x="512.8" y="632.3" font-size="8.2" fill="#2a2a2a" text-anchor="middle" font-weight="normal" textLength="18.2" lengthAdjust="spacingAndGlyphs" stroke="#2a2a2a" stroke-width="0.18">Ключ</text>
<text x="587" y="632.3" font-size="8.2" fill="#2a2a2a" text-anchor="middle" font-weight="normal" textLength="49.4" lengthAdjust="spacingAndGlyphs" stroke="#2a2a2a" stroke-width="0.18">Саморез 4*16</text>
<text x="292.5" y="686.3" font-size="8.2" fill="#2a2a2a" text-anchor="middle" font-weight="normal" textLength="28.3" lengthAdjust="spacingAndGlyphs" stroke="#2a2a2a" stroke-width="0.18">№6-4шт</text>
<text x="368.5" y="686.3" font-size="8.2" fill="#2a2a2a" text-anchor="middle" font-weight="normal" textLength="31.7" lengthAdjust="spacingAndGlyphs" stroke="#2a2a2a" stroke-width="0.18">№7-18шт</text>
<text x="439.8" y="686.3" font-size="8.2" fill="#2a2a2a" text-anchor="middle" font-weight="normal" textLength="28.3" lengthAdjust="spacingAndGlyphs" stroke="#2a2a2a" stroke-width="0.18">№8-1шт</text>
<text x="510.8" y="686.3" font-size="8.2" fill="#2a2a2a" text-anchor="middle" font-weight="normal" textLength="27.6" lengthAdjust="spacingAndGlyphs" stroke="#2a2a2a" stroke-width="0.18">№9-1шт</text>
<text x="589.2" y="686.3" font-size="8.2" fill="#2a2a2a" text-anchor="middle" font-weight="normal" textLength="37.1" lengthAdjust="spacingAndGlyphs" stroke="#2a2a2a" stroke-width="0.18">№10-12шт</text>
<path d="M271,581.1 L313,581.4 L318,582.4 L313,583.5 L271,583.7 Z" fill="#fff" stroke="#222" stroke-width="0.9"/>
<ellipse cx="269.6" cy="582.4" rx="1.4" ry="3" fill="#fff" stroke="#222" stroke-width="0.9"/>
<line x1="272" y1="581.2" x2="272" y2="583.6" stroke="#444" stroke-width="0.6"/>
<line x1="273.7" y1="581.2" x2="273.7" y2="583.6" stroke="#444" stroke-width="0.6"/>
<line x1="275.4" y1="581.2" x2="275.4" y2="583.6" stroke="#444" stroke-width="0.6"/>
<line x1="277.1" y1="581.2" x2="277.1" y2="583.6" stroke="#444" stroke-width="0.6"/>
<line x1="278.8" y1="581.2" x2="278.8" y2="583.6" stroke="#444" stroke-width="0.6"/>
<line x1="280.5" y1="581.2" x2="280.5" y2="583.6" stroke="#444" stroke-width="0.6"/>
<path d="M336,578 L355,578 L355,587 L336,587 Z" fill="#fff" stroke="#222" stroke-width="0.9"/>
<ellipse cx="335.2" cy="582.5" rx="2.6" ry="6.6" fill="#fff" stroke="#222" stroke-width="1"/>
<circle cx="335.3" cy="582.5" r="1.6" fill="none" stroke="#444" stroke-width="0.6"/>
<path d="M355,578.6 L355.6,577.8 L356.8,587.4 L358,577.8 L359.2,587.4 L360.4,577.8 L361.6,587.4 L362.8,577.8 L364,587.4 L365.2,577.8 L366.4,587.4 L367.6,577.8 L368.8,587.4 L370,577.8 L371.2,587.4 L372.4,577.8 L373.6,587.4 L374.8,577.8 L376,587.4 L377.2,577.8 L378.4,587.4 L379.6,577.8 L380.8,587.4 L382,577.8 L383.2,587.4 L384.4,577.8 L385.6,587.4 L386.8,577.8 L388,587.4 L389.2,577.8 L390.4,587.4 L391.6,577.8 L392.8,587.4 L394,577.8 L395.2,587.4 L396.4,577.8 L397.6,587.4 " fill="none" stroke="#333" stroke-width="0.8"/>
<path d="M355,578.3 L396,578.6 Q399.3,582.5 396,586.6 L355,587" fill="none" stroke="#222" stroke-width="0.9"/>
<path d="M424,572.4 L437,572.4 L437,586.6 L424,586.6" fill="#fff" stroke="#222" stroke-width="0.9"/>
<ellipse cx="424" cy="579.5" rx="2.9" ry="7.1" fill="#fff" stroke="#222" stroke-width="0.9"/>
<path d="M443,572.6 L455.5,572.6 Q458.4,579.5 455.5,586.4 L443,586.4" fill="#fff" stroke="#222" stroke-width="0.9"/>
<path d="M437.5,569.6 L441.5,569.6 M437.5,589.4 L441.5,589.4" fill="none" stroke="#222" stroke-width="0.9"/>
<ellipse cx="441.5" cy="579.5" rx="3" ry="9.9" fill="#fff" stroke="#222" stroke-width="0.9"/>
<ellipse cx="437.6" cy="579.5" rx="3" ry="9.9" fill="#fff" stroke="#222" stroke-width="0.9"/>
<ellipse cx="438.6" cy="579.5" rx="1.6" ry="8.3" fill="none" stroke="#555" stroke-width="0.6"/>
<path d="M490.2,582.5 L494,579 L499,578.3 L503,580.5 L508,581.5 L513.5,585.5 L512.5,589 L505,591.5 L497,591 L493,588 L490.5,585 Z" fill="#fff" stroke="#1a1a1a" stroke-width="1"/>
<ellipse cx="503.5" cy="588.3" rx="6.5" ry="2.6" fill="#fff" stroke="#1a1a1a" stroke-width="0.9"/>
<ellipse cx="495.3" cy="581.3" rx="1.8" ry="1.2" fill="#222"/>
<rect x="499" y="581.5" width="3.4" height="3.2" fill="#fff" stroke="#1a1a1a" stroke-width="0.8"/>
<path d="M510.7,576.7 L538.2,569.6 L539,575.3 L516.4,583.4 L513,584 Z" fill="#fff" stroke="#1a1a1a" stroke-width="1"/>
<line x1="512.5" y1="579.5" x2="538.6" y2="572.3" stroke="#1a1a1a" stroke-width="0.8"/>
<line x1="516.4" y1="583.4" x2="517" y2="580.3" stroke="#1a1a1a" stroke-width="0.8"/>
<rect x="520.5" y="573.2" width="2.6" height="1.8" fill="#111" transform="rotate(-15 521.8 574.1)"/>
<rect x="527" y="571.6" width="2.6" height="1.8" fill="#111" transform="rotate(-15 528.3 572.5)"/>
<path d="M509.2,577.3 L512.2,578.5 L508.8,585.8 L506,584.6 Z" fill="#fff" stroke="#1a1a1a" stroke-width="0.9"/>
<path d="M572,585.5 L573,579 Q574,575 578,574.6 L583.5,574.2 L586,577 L586,581 L579,585 L574.5,588 Z" fill="#fff" stroke="#111" stroke-width="1.3"/>
<path d="M572.4,584 L579,580.8 L580.5,584.4 L574.5,588 Z" fill="#222" stroke="none" stroke-width="0"/>
<ellipse cx="578.3" cy="577.3" rx="2.6" ry="1.6" fill="#fff" stroke="#111" stroke-width="0.9"/>
<path d="M587.2,574 L597.5,571.6 L599.6,573.3 L599.6,578 L588,580.6 Z" fill="#fff" stroke="#111" stroke-width="1.1"/>
<path d="M587.2,574 L597.5,571.6 L599.6,573.3 L589.2,575.8 Z" fill="#111" stroke="#111" stroke-width="0.8"/>
<path d="M588,580.6 L589.2,575.8 L599.6,573.3" fill="none" stroke="#111" stroke-width="0.8"/>
<path d="M586,586.5 L601,584 L603,588 L601.5,590.7 L592.5,592 L587,590 Z" fill="#d6d6d6" stroke="#111" stroke-width="1.1"/>
<line x1="589" y1="588.8" x2="600.5" y2="586.6" stroke="#111" stroke-width="0.8"/>
<path d="M579.5,582 L599.5,577 L600.3,582.7 L581,588.5 Z" fill="#fff" stroke="#111" stroke-width="1.3"/>
<path d="M581,588.5 L600.3,582.7 L600.3,584.6 L581.5,590.8 Z" fill="#333" stroke="#111" stroke-width="0.7"/>
<ellipse cx="585.5" cy="582.8" rx="1.3" ry="0.9" fill="#111"/>
<path d="M283,654 L306,647.2 Q310.5,645.5 310.3,649.5 L309.8,662.5 Q309.5,664.5 307,665 L285,671.5 Q282,672.5 282,669.5 L282,656 Q282,654.3 283,654 Z" fill="#fff" stroke="#222" stroke-width="1"/>
<path d="M285.5,655.5 L308.5,648.5 Q310.5,648 309.5,651 L285.8,658 Z" fill="#fff" stroke="#333" stroke-width="0.8"/>
<path d="M285.8,667.5 L309.5,660.5 M285.5,669.5 L309,662.5" fill="none" stroke="#333" stroke-width="0.8"/>
<path d="M283.5,655.5 Q285.5,655 285.6,657.5 L285.8,671" fill="none" stroke="#333" stroke-width="0.8"/>
<ellipse cx="288.7" cy="662.8" rx="1.7" ry="2.4" fill="none" stroke="#222" stroke-width="0.9"/>
<ellipse cx="304" cy="657.3" rx="1.7" ry="2.4" fill="none" stroke="#222" stroke-width="0.9"/>
<ellipse cx="368" cy="657.8" rx="3.2" ry="9" fill="#fff" stroke="#222" stroke-width="1"/>
<ellipse cx="367" cy="657.8" rx="1.6" ry="7.5" fill="none" stroke="#444" stroke-width="0.6"/>
<rect x="361" y="656.2" width="4" height="3.6" fill="#fff" stroke="#222" stroke-width="0.9"/>
<path d="M364,653 L366,654.5 M364,662.5 L366,661" fill="none" stroke="#222" stroke-width="0.8"/>
<path d="M415.5,653.8 Q421,652.2 424,656 Q440,658.5 458,656 Q461,652.5 466,653.5 Q471,654.8 469,657.5 Q466,659.3 461,658.6 Q455,664 440,666 Q424,664.6 418,658.6 Q411.5,659 411,656.5 Q411,654.3 415.5,653.8 Z" fill="#fff" stroke="#222" stroke-width="0.9"/>
<path d="M414.5,641 L414.5,648.5 M465.3,641 L465.3,648.5" fill="none" stroke="#111" stroke-width="1.6"/>
<path d="M413.3,641.5 L415.7,641.5 M464.1,641.5 L466.5,641.5" fill="none" stroke="#111" stroke-width="1.6"/>
<path d="M497.5,651.5 L497.5,663 Q497.5,667 501,665.3 L528,650.5 L528.5,662" fill="none" stroke="#222" stroke-width="3.2" stroke-linejoin="round"/>
<path d="M497.5,651.5 L497.5,663 Q497.5,667 501,665.3 L528,650.5 L528.5,662" fill="none" stroke="#fff" stroke-width="1.4" stroke-linejoin="round"/>
<path d="M496,652 L499,652 M527,659 L530,659 M527,661 L530,661" fill="none" stroke="#222" stroke-width="0.7"/>
<ellipse cx="588.8" cy="643.4" rx="9.6" ry="3.6" fill="#fff" stroke="#222" stroke-width="1"/>
<ellipse cx="588.8" cy="643.2" rx="4.3" ry="1.9" fill="#555" stroke="none"/>
<path d="M585,647 L585.5,668 L588.8,675.8 L592,668 L592.6,647" fill="#fff" stroke="#222" stroke-width="1"/>
<line x1="585" y1="649.7" x2="592.6" y2="648.1" stroke="#333" stroke-width="0.8"/>
<line x1="585" y1="651.9" x2="592.6" y2="650.3" stroke="#333" stroke-width="0.8"/>
<line x1="585" y1="654.1" x2="592.6" y2="652.5" stroke="#333" stroke-width="0.8"/>
<line x1="585" y1="656.3" x2="592.6" y2="654.7" stroke="#333" stroke-width="0.8"/>
<line x1="585" y1="658.5" x2="592.6" y2="656.9" stroke="#333" stroke-width="0.8"/>
<line x1="585" y1="660.7" x2="592.6" y2="659.1" stroke="#333" stroke-width="0.8"/>
<line x1="585" y1="662.9" x2="592.6" y2="661.3" stroke="#333" stroke-width="0.8"/>
<line x1="585" y1="665.1" x2="592.6" y2="663.5" stroke="#333" stroke-width="0.8"/>
<line x1="585" y1="667.3" x2="592.6" y2="665.7" stroke="#333" stroke-width="0.8"/>
<line x1="585" y1="669.5" x2="592.6" y2="667.9" stroke="#333" stroke-width="0.8"/>
<line x1="585" y1="671.7" x2="592.6" y2="670.1" stroke="#333" stroke-width="0.8"/>
<line x1="255" y1="684.4" x2="624" y2="684.4" stroke="#fff" stroke-width="0.8" opacity="0.7"/>
</svg>
</body></html>
